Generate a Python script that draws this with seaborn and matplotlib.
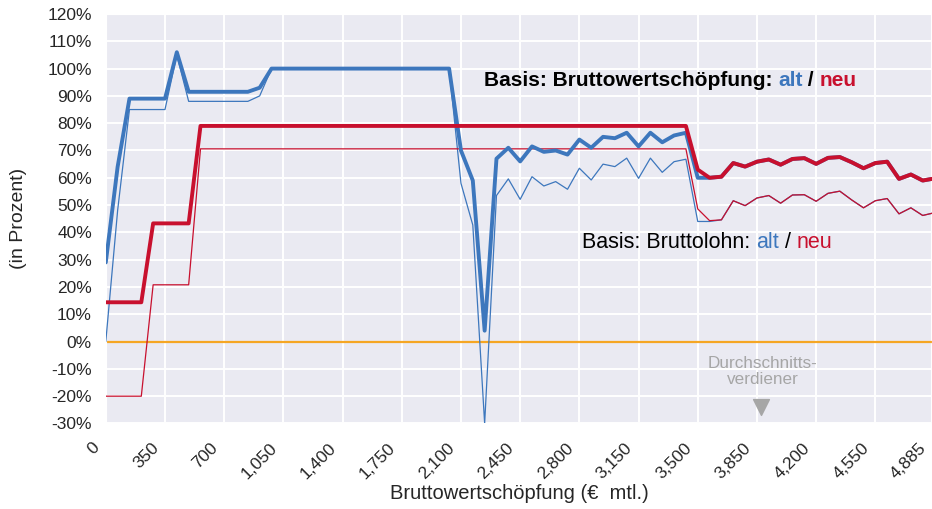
import numpy as np
import pandas as pd
import matplotlib
matplotlib.use("Agg")
import matplotlib.pyplot as plt
import matplotlib.transforms as mtransforms
import seaborn as sns

# Bruttowertschoepfung (EUR mtl.), Schritte zu 70, letzter Wert 4885
einkommen = list(range(0, 4900, 70)) + [4885]

# Basis Bruttowertschoepfung, alt (dicke blaue Linie), in Prozent
bws_alt = [29, 64, 89, 89, 89, 89, 106, 91.5, 91.5, 91.5, 91.5, 91.5, 91.5, 93, 100,
           100, 100, 100, 100, 100, 100, 100, 100, 100, 100, 100, 100, 100, 100, 100,
           70, 59, 4, 67, 71, 66, 71.5, 69.5, 70, 68.5, 74, 71, 75, 74.5, 76.5, 71.5,
           76.5, 73, 75.5, 76.5, 60, 60,
           60.4, 65.4, 64.1, 65.9, 66.7, 64.8, 66.9, 67.2, 65.1, 67.3, 67.6, 65.7,
           63.5, 65.4, 65.9, 59.6, 61.2, 59, 59.6]

# Basis Bruttowertschoepfung, neu (dicke rote Linie)
bws_neu = [14.4, 14.4, 14.4, 14.4, 43.3, 43.3, 43.3, 43.3] + [79] * 42 + \
          [63, 60, 60.4, 65.4, 64.1, 65.9, 66.7, 64.8, 66.9, 67.2, 65.1, 67.3, 67.6,
           65.7, 63.5, 65.4, 65.9, 59.6, 61.2, 59, 59.6]

# Basis Bruttolohn, alt (duenne blaue Linie)
lohn_alt = [0, 48, 85, 85, 85, 85, 105, 88, 88, 88, 88, 88, 88, 90,
            100, 100, 100, 100, 100, 100, 100, 100, 100, 100, 100, 100, 100, 100, 100, 100,
            58, 42.7, -30, 53.5, 59.6, 52.1, 60.4, 57, 58.6, 55.8, 63.5, 59.2, 65, 64.1,
            67.2, 59.8, 67.2, 62, 65.9, 66.8, 44, 44,
            44.6, 51.6, 49.8, 52.6, 53.5, 50.7, 53.7, 53.8, 51.4, 54.3, 55.1, 51.9,
            49, 51.6, 52.4, 46.8, 49, 46.2, 47]

# Basis Bruttolohn, neu (duenne rote Linie)
lohn_neu = [-20, -20, -20, -20, 20.8, 20.8, 20.8, 20.8] + [70.6] * 42 + \
           [48.6, 44.3, 44.6, 51.6, 49.8, 52.6, 53.5, 50.7, 53.7, 53.8, 51.4, 54.3,
            55.1, 51.9, 49, 51.6, 52.4, 46.8, 49, 46.2, 47]

x_ticks = [0, 350, 700, 1050, 1400, 1750, 2100, 2450, 2800, 3150, 3500, 3850,
           4200, 4550, 4885]
y_ticks = list(range(-30, 130, 10))

blau = "#3D77BD"
rot = "#C8102E"
orange = "#F5A623"
grau = "#A6A6A6"

df = pd.DataFrame({"x": einkommen, "bws_alt": bws_alt, "bws_neu": bws_neu,
                   "lohn_alt": lohn_alt, "lohn_neu": lohn_neu})

sns.set_style("darkgrid")
plt.rcParams["font.family"] = ["Liberation Sans", "DejaVu Sans"]

fig = plt.figure(figsize=(9.32, 5.09), dpi=100)
ax = fig.add_axes([0.1135, 0.168, 0.8865, 0.8045])

ax.axhline(0, color=orange, lw=1.6, zorder=2)
sns.lineplot(data=df, x="x", y="lohn_alt", color=blau, lw=0.9, ax=ax, zorder=3)
sns.lineplot(data=df, x="x", y="lohn_neu", color=rot, lw=0.9, ax=ax, zorder=3)
sns.lineplot(data=df, x="x", y="bws_alt", color=blau, lw=2.8, ax=ax, zorder=4)
sns.lineplot(data=df, x="x", y="bws_neu", color=rot, lw=2.8, ax=ax, zorder=5)

ax.set_xlim(0, 4885)
ax.set_ylim(-30, 120)
ax.set_xticks(x_ticks)
ax.set_xticklabels([f"{v:,}" for v in x_ticks], rotation=45, ha="right",
                   rotation_mode="anchor", fontsize=12.5)
ax.set_yticks(y_ticks)
ax.set_yticklabels([f"{v}%" for v in y_ticks], fontsize=12.5)
ax.tick_params(axis="x", length=0, pad=12)
ax.tick_params(axis="y", length=0, pad=10)
ax.grid(color="white", lw=1.4)

# Beschriftungen der x-Achse etwas nach links schieben
verschiebung = mtransforms.ScaledTranslation(-0.14, 0, fig.dpi_scale_trans)
for lab in ax.get_xticklabels():
    lab.set_transform(lab.get_transform() + verschiebung)

ax.set_xlabel("Bruttowertschöpfung (€  mtl.)", fontsize=14.5, labelpad=2)
ax.set_ylabel("(in Prozent)", fontsize=14, labelpad=15)


def bunter_text(x, y, teile, **kw):
    t = ax.text(x, y, teile[0][0], color=teile[0][1], va="center", zorder=6, **kw)
    for s, c in teile[1:]:
        t = ax.annotate(s, xycoords=t, xy=(1, 0), va="bottom", color=c,
                        zorder=6, **kw)


bunter_text(2234, 95.5, [("Basis: Bruttowertschöpfung: ", "black"), ("alt", blau),
                         (" / ", "black"), ("neu", rot)],
            fontsize=15, fontweight="bold")
bunter_text(2813, 36.2, [("Basis: Bruttolohn: ", "black"), ("alt", blau),
                         (" / ", "black"), ("neu", rot)],
            fontsize=15.5)

ax.text(3883, -10.9, "Durchschnitts-\nverdiener", color=grau, ha="center",
        va="center", fontsize=12.3, linespacing=1.1, zorder=6)
ax.scatter([3876], [-23.8], marker="v", s=130, color=grau, zorder=6)

fig.savefig("out.png", dpi=100)
